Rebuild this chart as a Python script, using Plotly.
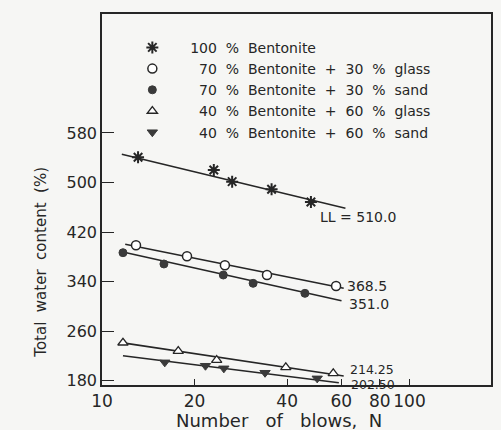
import plotly.graph_objects as go

# ---- data ----
series_names = [
    "100 % Bentonite",
    "70 % Bentonite + 30 % glass",
    "70 % Bentonite + 30 % sand",
    "40 % Bentonite + 60 % glass",
    "40 % Bentonite + 60 % sand",
]

bent100_N = [13.1, 23.1, 26.5, 35.6, 47.8]
bent100_w = [540.7, 520.2, 501.3, 489.0, 468.5]
bent100_fitN = [11.6, 61.9]
bent100_fitw = [545.6, 458.4]

glass30_N = [12.9, 18.9, 25.1, 34.4, 57.7]
glass30_w = [398.6, 380.8, 366.3, 350.6, 332.8]
glass30_fitN = [11.9, 61.1]
glass30_fitw = [400.2, 329.1]

sand30_N = [11.7, 15.9, 24.8, 31.0, 45.7]
sand30_w = [386.6, 368.4, 350.6, 337.2, 321.0]
sand30_fitN = [11.6, 60.1]
sand30_fitw = [388.2, 309.0]

glass60_N = [11.7, 17.7, 23.6, 39.6, 56.5]
glass60_w = [241.2, 227.8, 213.3, 201.5, 191.8]
glass60_fitN = [11.7, 61.1]
glass60_fitw = [241.0, 187.4]

sand60_N = [16.0, 21.7, 24.9, 33.9, 50.1]
sand60_w = [209.6, 204.1, 199.9, 192.8, 183.7]
sand60_fitN = [11.7, 58.9]
sand60_fitw = [220.2, 176.6]

ll_labels = ["LL = 510.0", "368.5", "351.0", "214.25", "202.50"]

x_tickvals = [10, 20, 40, 60, 80, 100]
y_tickvals = [180, 260, 340, 420, 500, 580]

# ---- styling ----
INK = "#262626"
FONT = "DejaVu Sans"
NB = "\u00a0"


def spaced(s, pad):
    # widen word gaps like the plotter lettering of the original
    return NB * pad + s.replace(" ", NB * 2)


fig = go.Figure()

pts = [bent100_N, glass30_N, sand30_N, glass60_N, sand60_N]
ws = [bent100_w, glass30_w, sand30_w, glass60_w, sand60_w]
fitNs = [bent100_fitN, glass30_fitN, sand30_fitN, glass60_fitN, sand60_fitN]
fitws = [bent100_fitw, glass30_fitw, sand30_fitw, glass60_fitw, sand60_fitw]

markers = [
    dict(symbol="asterisk-open", size=10, color=INK, line=dict(color=INK, width=2)),
    dict(symbol="circle", size=9, color="white", line=dict(color=INK, width=1.5)),
    dict(symbol="circle", size=8, color="#3a3a3a", line=dict(color="#3a3a3a", width=1)),
    dict(symbol="triangle-up", size=9, color="white", line=dict(color=INK, width=1.3)),
    dict(symbol="triangle-down", size=9, color="#3a3a3a", line=dict(color="#3a3a3a", width=1)),
]

for fn, fw in zip(fitNs, fitws):
    fig.add_trace(go.Scatter(x=fn, y=fw, mode="lines", showlegend=False,
                             line=dict(color=INK, width=1.6), hoverinfo="skip"))

pads = [4, 6, 6, 6, 6]
for name, n, w, m, p in zip(series_names, pts, ws, markers, pads):
    fig.add_trace(go.Scatter(x=n, y=w, mode="markers", name=spaced(name, p), marker=m))

# value labels next to line ends (positions: log10(N), water content)
label_pos = [(1.706, 444), (1.793, 333), (1.799, 304), (1.803, 198.5), (1.806, 174.5)]
label_size = [14, 14, 14, 12.5, 12.5]
for txt, (lx, ly), fs in zip(ll_labels, label_pos, label_size):
    fig.add_annotation(x=lx, y=ly, xref="x", yref="y", text=txt, showarrow=False,
                       xanchor="left", yanchor="middle", borderpad=0,
                       font=dict(family=FONT, size=fs, color=INK))

# axis titles as annotations
fig.add_annotation(text=f"Number{NB*3}of{NB*3}blows,{NB*2}N", x=0.455, y=-0.095,
                   xref="paper", yref="paper", showarrow=False, xanchor="center",
                   yanchor="middle", font=dict(family=FONT, size=18, color=INK))
fig.add_annotation(text=f"Total{NB*2}water{NB*2}content{NB*2}(%)", x=-0.159, y=0.33,
                   xref="paper", yref="paper", showarrow=False, textangle=-90,
                   xanchor="center", yanchor="middle",
                   font=dict(family=FONT, size=15, color=INK))

fig.update_layout(
    width=501, height=430,
    margin=dict(l=102, r=8, t=14, b=45),
    paper_bgcolor="#f6f6f4", plot_bgcolor="#f6f6f4",
    font=dict(family=FONT, color=INK),
    legend=dict(x=0.078, y=0.952, xanchor="left", yanchor="top",
                bgcolor="rgba(0,0,0,0)", font=dict(family=FONT, size=14, color=INK),
                tracegroupgap=0, itemwidth=30),
    xaxis=dict(type="log", range=[1, 2.265], tickvals=x_tickvals,
               ticktext=[str(v) for v in x_tickvals],
               showgrid=False, zeroline=False, showline=True, linecolor=INK,
               linewidth=1.5, mirror=True, ticks="inside", ticklen=6,
               tickcolor=INK, tickwidth=1.3,
               tickfont=dict(family=FONT, size=17, color=INK)),
    yaxis=dict(range=[173, 772], tickvals=y_tickvals,
               showgrid=False, zeroline=False, showline=True, linecolor=INK,
               linewidth=1.5, mirror=True, ticks="inside", ticklen=12,
               tickcolor=INK, tickwidth=1.3,
               tickfont=dict(family=FONT, size=16, color=INK)),
)

fig.write_html("out.html", config={"displayModeBar": False},
               post_script="document.body.style.margin='0';document.body.style.background='#f6f6f4';")
